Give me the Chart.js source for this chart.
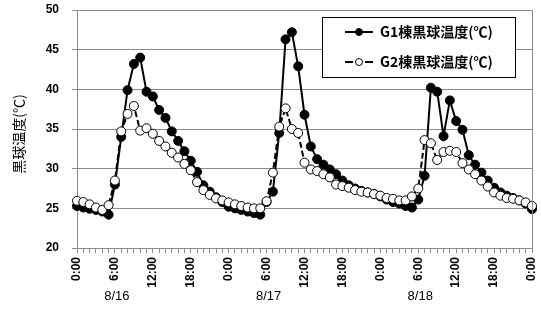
<!DOCTYPE html>
<html>
<head>
<meta charset="utf-8">
<script src="https://cdn.jsdelivr.net/npm/chart.js@4/dist/chart.umd.min.js"></script>
<style>
  html, body { margin: 0; padding: 0; background: #fff; }
  canvas { display: block; }
</style>
</head>
<body>
<canvas id="c" width="541" height="327"></canvas>
<script>
// Hourly black-globe temperature, 8/16 0:00 through 8/19 0:00
const hourOfDay = ['0:00','1:00','2:00','3:00','4:00','5:00','6:00','7:00','8:00','9:00','10:00','11:00',
                   '12:00','13:00','14:00','15:00','16:00','17:00','18:00','19:00','20:00','21:00','22:00','23:00'];
const categories = [...hourOfDay, ...hourOfDay, ...hourOfDay, '0:00'];
const dayLabels = ['8/16', '8/17', '8/18'];

const seriesNames = ['G1棟黒球温度(℃)', 'G2棟黒球温度(℃)'];

const g1Temp = [
  25.3, 25.1, 24.95, 24.8, 24.6, 24.2, 28.0, 34.0, 39.9, 43.2, 44.0, 39.7,
  39.1, 37.4, 36.4, 34.7, 33.5, 32.2, 31.0, 29.6, 27.9, 27.1, 26.4, 25.8,
  25.2, 25.0, 24.8, 24.6, 24.4, 24.2, 25.8, 27.1, 34.5, 46.3, 47.2, 42.9,
  36.8, 32.8, 31.2, 30.5, 29.9, 29.3, 28.5, 27.9, 27.5, 27.2, 27.0, 26.8,
  26.5, 26.1, 25.8, 25.6, 25.3, 25.1, 26.1, 29.1, 40.2, 39.7, 34.1, 38.6,
  36.0, 34.9, 31.7, 30.5, 29.5, 28.5, 27.6, 27.0, 26.6, 26.3, 26.0, 25.6,
  24.9
];

const g2Temp = [
  25.95, 25.8, 25.5, 25.1, 24.8, 25.4, 28.5, 34.7, 36.9, 37.9, 34.8, 35.1,
  34.4, 33.5, 32.8, 32.0, 31.4, 30.6, 29.8, 28.3, 27.3, 26.7, 26.25, 26.0,
  25.75, 25.5, 25.3, 25.1, 25.0, 25.0, 25.9, 29.5, 35.3, 37.6, 35.0, 34.5,
  30.75, 29.9, 29.7, 29.3, 28.9, 28.0, 27.8, 27.6, 27.3, 27.1, 27.0, 26.8,
  26.6, 26.3, 26.2, 26.0, 26.0, 26.5, 27.5, 33.6, 33.2, 31.1, 32.1, 32.25,
  32.1, 30.7, 29.9, 29.3, 28.5, 27.75, 27.0, 26.6, 26.3, 26.2, 26.0, 25.75,
  25.3
];

const GRID = '#8c8c8c';
const TICK_FONT = { family: '"Liberation Sans", Arial, sans-serif', size: 12, weight: 'bold' };

function noScalePadding(scale) {
  scale.paddingTop = 0;
  scale.paddingBottom = 0;
  scale.paddingLeft = 0;
  scale.paddingRight = 0;
}

// Extra drawing: right frame edge, date row, vertical axis title, boxed legend
const decorPlugin = {
  id: 'decor',
  afterDraw(chart) {
    const { ctx, chartArea: a, scales: { x } } = chart;
    ctx.save();

    // right edge of the plot frame
    ctx.strokeStyle = GRID;
    ctx.lineWidth = 1;
    const rx = Math.round(a.right) + 0.5;
    ctx.beginPath();
    ctx.moveTo(rx, a.top);
    ctx.lineTo(rx, a.bottom);
    ctx.stroke();

    // dates under the time labels, each under that day's 6:00
    ctx.fillStyle = '#000';
    ctx.font = '13px "Liberation Sans", Arial, sans-serif';
    ctx.textAlign = 'center';
    ctx.textBaseline = 'middle';
    dayLabels.forEach((d, i) => {
      ctx.fillText(d, x.getPixelForValue(i * 24 + 6) + 2, 296);
    });

    // vertical axis title
    ctx.save();
    ctx.translate(19, 134);
    ctx.rotate(-Math.PI / 2);
    ctx.font = '14px "Noto Sans CJK JP", sans-serif';
    ctx.fillText('黒球温度(℃)', 0, 0);
    ctx.restore();

    // legend box
    const bx = 322, by = 17, bw = 193, bh = 60;
    ctx.fillStyle = '#fff';
    ctx.fillRect(bx, by, bw, bh);
    ctx.strokeStyle = '#000';
    ctx.lineWidth = 1;
    ctx.strokeRect(bx + 0.5, by + 0.5, bw, bh);

    const rows = [by + 15, by + 45];
    chart.data.datasets.forEach((ds, i) => {
      const ry = rows[i];
      ctx.strokeStyle = ds.borderColor;
      ctx.lineWidth = ds.borderWidth;
      ctx.setLineDash([]);
      ctx.beginPath();
      if (ds.borderDash) {
        ctx.moveTo(345, ry); ctx.lineTo(353, ry);
        ctx.moveTo(365, ry); ctx.lineTo(373, ry);
      } else {
        ctx.moveTo(345, ry); ctx.lineTo(373, ry);
      }
      ctx.stroke();
      ctx.beginPath();
      ctx.arc(359, ry, 3.5, 0, Math.PI * 2);
      ctx.fillStyle = ds.pointBackgroundColor;
      ctx.fill();
      ctx.lineWidth = ds.pointBorderWidth;
      ctx.strokeStyle = ds.pointBorderColor;
      ctx.stroke();

      ctx.fillStyle = '#000';
      ctx.font = 'bold 14px "Noto Sans CJK JP", sans-serif';
      ctx.textAlign = 'left';
      ctx.textBaseline = 'middle';
      ctx.fillText(ds.label, 380, ry);
    });

    ctx.restore();
  }
};

new Chart(document.getElementById('c'), {
  type: 'line',
  data: {
    labels: categories,
    datasets: [
      {
        label: seriesNames[0],
        data: g1Temp,
        borderColor: '#000',
        borderWidth: 2,
        pointRadius: 4.5,
        pointBackgroundColor: '#000',
        pointBorderColor: '#000',
        pointBorderWidth: 1,
        tension: 0,
        order: 1
      },
      {
        label: seriesNames[1],
        data: g2Temp,
        borderColor: '#000',
        borderWidth: 2,
        borderDash: [6, 3],
        pointRadius: 4.5,
        pointBackgroundColor: '#fff',
        pointBorderColor: '#000',
        pointBorderWidth: 1,
        tension: 0,
        order: 0
      }
    ]
  },
  options: {
    responsive: false,
    animation: false,
    devicePixelRatio: 1,
    layout: { padding: { top: 10, right: 9, left: 0, bottom: 0 } },
    plugins: { legend: { display: false }, tooltip: { enabled: false } },
    scales: {
      x: {
        type: 'category',
        offset: false,
        grid: { drawOnChartArea: false, drawTicks: true, tickLength: 5, color: GRID },
        border: { color: GRID },
        ticks: {
          autoSkip: false,
          minRotation: 90,
          maxRotation: 90,
          padding: 4,
          color: '#000',
          font: TICK_FONT,
          callback: function (value, index) {
            return index % 6 === 0 ? this.getLabelForValue(value) : '';
          }
        },
        afterFit(scale) { scale.height = 79; noScalePadding(scale); }
      },
      y: {
        min: 20,
        max: 50,
        grid: { color: GRID, tickLength: 5 },
        border: { color: GRID },
        ticks: { stepSize: 5, padding: 13, color: '#000', font: TICK_FONT },
        afterFit(scale) { scale.width = 77; noScalePadding(scale); }
      }
    }
  },
  plugins: [decorPlugin]
});
</script>
</body>
</html>
